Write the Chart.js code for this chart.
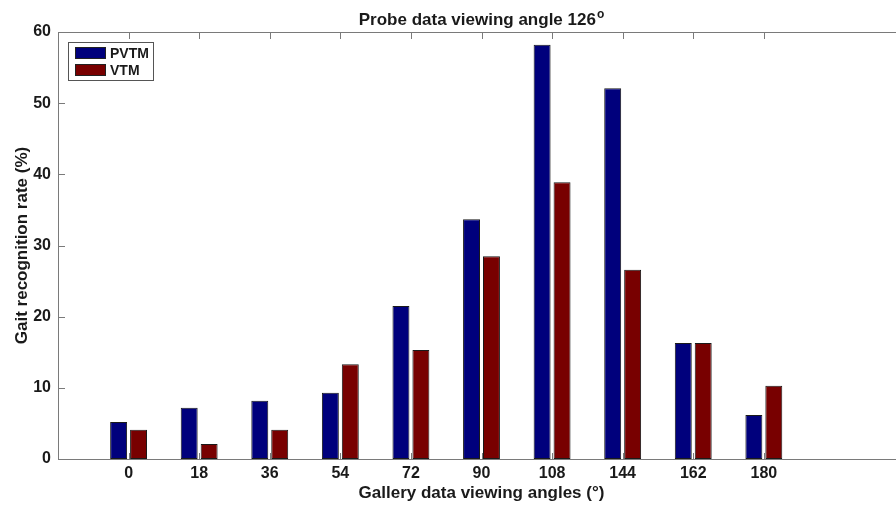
<!DOCTYPE html>
<html>
<head>
<meta charset="utf-8">
<script src="https://cdn.jsdelivr.net/npm/chart.js@4.4.1/dist/chart.umd.min.js"></script>
<style>
  html, body { margin: 0; padding: 0; background: #fff; overflow: hidden; }
  #wrap { width: 910px; height: 507px; }
</style>
</head>
<body>
<div id="wrap"><canvas id="gait"></canvas></div>
<script>
// gallery angles (probe fixed at 126 deg)
const angles = ['0', '18', '36', '54', '72', '90', '108', '144', '162', '180'];
const pvtm = [5.2, 7.2, 8.2, 9.3, 21.5, 33.7, 58.2, 52.1, 16.3, 6.2];
const vtm  = [4.1, 2.1, 4.1, 13.3, 15.3, 28.5, 38.9, 26.6, 16.3, 10.3];
const yTicks = [0, 10, 20, 30, 40, 50, 60];

const fontFam = "'Liberation Sans', Arial, Helvetica, sans-serif";
const axisColor = '#7a7a7a';
const textColor = '#1a1a1a';

// matlab style box, inward ticks, legend and title
const matlabAxes = {
  id: 'matlabAxes',
  beforeDatasetsDraw(chart) {
    const {ctx, chartArea: a, scales: {x, y}} = chart;
    ctx.save();
    ctx.strokeStyle = axisColor;
    ctx.lineWidth = 1;
    ctx.beginPath();
    angles.forEach((_, i) => {
      const px = Math.round(x.getPixelForValue(i + 1)) + 0.5;
      ctx.moveTo(px, a.top); ctx.lineTo(px, a.top + 7);
      ctx.moveTo(px, a.bottom); ctx.lineTo(px, a.bottom - 6);
    });
    yTicks.forEach(v => {
      const py = Math.round(y.getPixelForValue(v)) + 0.5;
      ctx.moveTo(a.left, py); ctx.lineTo(a.left + 7, py);
      ctx.moveTo(a.right, py); ctx.lineTo(a.right - 7, py);
    });
    ctx.stroke();
    ctx.restore();
  },
  afterDatasetsDraw(chart) {
    const {ctx, chartArea: a} = chart;
    ctx.save();
    ctx.strokeStyle = axisColor;
    ctx.lineWidth = 1;
    ctx.strokeRect(Math.round(a.left) + 0.5, Math.round(a.top) + 0.5,
                   Math.round(a.right - a.left), Math.round(a.bottom - a.top));

    // legend
    const lx = a.left + 10, ly = a.top + 10;
    ctx.fillStyle = '#fff';
    ctx.fillRect(lx, ly, 85, 38);
    ctx.strokeStyle = '#555';
    ctx.strokeRect(lx + 0.5, ly + 0.5, 85, 38);
    ctx.font = 'bold 14px ' + fontFam;
    ctx.textBaseline = 'middle';
    chart.data.datasets.forEach((ds, i) => {
      const sy = ly + 5 + i * 17;
      ctx.fillStyle = ds.backgroundColor;
      ctx.fillRect(lx + 7, sy, 31, 12);
      ctx.strokeStyle = '#222';
      ctx.strokeRect(lx + 7.5, sy + 0.5, 30, 11);
      ctx.fillStyle = textColor;
      ctx.fillText(ds.label, lx + 42, sy + 7);
    });

    // title with superscript o
    const main = 'Probe data viewing angle 126';
    ctx.font = 'bold 17px ' + fontFam;
    const w1 = ctx.measureText(main).width;
    ctx.font = 'bold 12px ' + fontFam;
    const w2 = ctx.measureText('o').width;
    const cx = (a.left + a.right) / 2;
    const sx = cx - (w1 + w2 + 1) / 2;
    ctx.fillStyle = textColor;
    ctx.textBaseline = 'alphabetic';
    ctx.textAlign = 'left';
    ctx.font = 'bold 17px ' + fontFam;
    ctx.fillText(main, sx, 25);
    ctx.font = 'bold 12px ' + fontFam;
    ctx.fillText('o', sx + w1 + 1, 18);
    ctx.restore();
  }
};

new Chart('gait', {
  type: 'bar',
  data: {
    datasets: [{
      label: 'PVTM',
      data: pvtm.map((v, i) => ({x: i + 1, y: v})),
      backgroundColor: '#00007c',
      borderColor: '#1a1a1a',
      borderWidth: 1,
      borderSkipped: false
    }, {
      label: 'VTM',
      data: vtm.map((v, i) => ({x: i + 1, y: v})),
      backgroundColor: '#780000',
      borderColor: '#1a1a1a',
      borderWidth: 1,
      borderSkipped: false
    }]
  },
  options: {
    responsive: true,
    maintainAspectRatio: false,
    animation: false,
    categoryPercentage: 0.565,
    barPercentage: 0.85,
    layout: {padding: {top: 32, right: 2, left: 0, bottom: 0}},
    plugins: {
      legend: {display: false},
      title: {display: false},
      tooltip: {enabled: false}
    },
    scales: {
      x: {
        type: 'linear',
        min: 0,
        max: 12,
        offset: false,
        afterFit: s => { s.height = 48; },
        grid: {display: false, drawTicks: false},
        border: {display: false},
        ticks: {
          stepSize: 1,
          autoSkip: false,
          maxRotation: 0,
          padding: 5,
          color: textColor,
          font: {family: fontFam, size: 16, weight: 'bold'},
          callback: v => angles[v - 1] ?? ''
        },
        title: {
          display: true,
          text: 'Gallery data viewing angles (°)',
          color: textColor,
          font: {family: fontFam, size: 17, weight: 'bold'},
          padding: {top: 0, bottom: 3}
        }
      },
      y: {
        min: 0,
        max: 60,
        afterFit: s => { s.width = 58; },
        grid: {display: false, drawTicks: false},
        border: {display: false},
        ticks: {
          stepSize: 10,
          padding: 7,
          color: textColor,
          font: {family: fontFam, size: 16, weight: 'bold'}
        },
        title: {
          display: true,
          text: 'Gait recognition rate (%)',
          color: textColor,
          font: {family: fontFam, size: 17, weight: 'bold'},
          padding: {top: 12, bottom: 0}
        }
      }
    }
  },
  plugins: [matlabAxes]
});
</script>
</body>
</html>
